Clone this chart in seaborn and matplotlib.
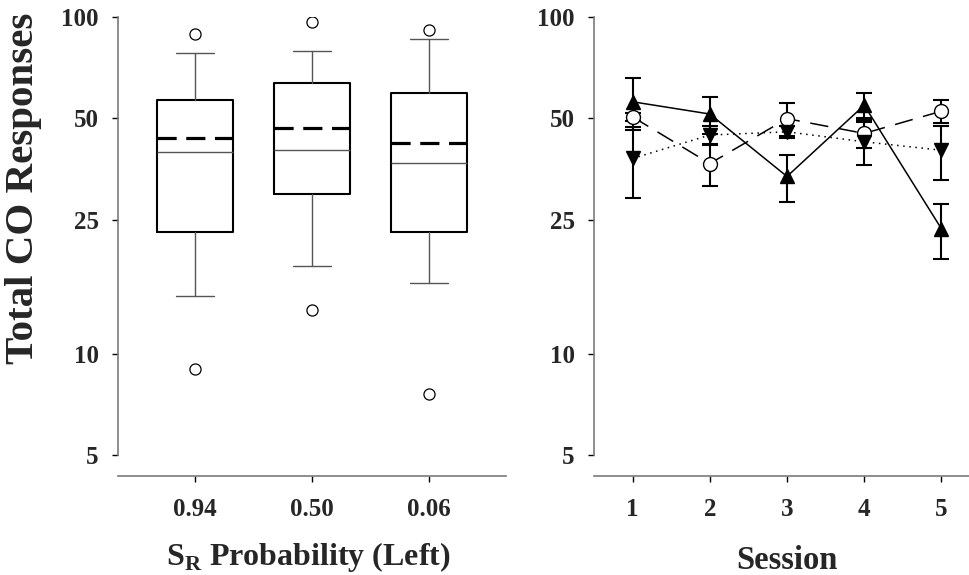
import matplotlib
matplotlib.use("Agg")
import matplotlib.pyplot as plt
from matplotlib.ticker import FixedLocator, FixedFormatter, NullLocator
import seaborn as sns

# left panel: box summaries per S_R probability
prob_labels = ["0.94", "0.50", "0.06"]
box_q1 = [23.0, 29.9, 23.0]
box_med = [39.7, 40.2, 36.8]
box_q3 = [56.6, 63.7, 59.5]
box_mean = [43.6, 46.7, 42.3]
whisk_lo = [14.8, 18.2, 16.2]
whisk_hi = [78.0, 79.2, 86.0]
fliers = [[89.0, 9.0], [96.4, 13.5], [91.7, 7.6]]

# right panel: session means and error bars
sessions = [1, 2, 3, 4, 5]
up_mean = [56.0, 51.5, 33.6, 54.7, 23.5]
up_err = [9.7, 6.5, 5.3, 4.6, 4.4]
circ_mean = [50.5, 36.7, 49.9, 45.1, 52.5]
circ_err = [1.5, 5.3, 5.7, 4.4, 4.0]
down_mean = [38.0, 44.6, 45.6, 42.6, 40.2]
down_err = [9.0, 3.0, 2.0, 6.2, 7.3]

yticks = [5, 10, 25, 50, 100]

sns.set_style("ticks")
plt.rcParams["font.family"] = ["Liberation Serif", "DejaVu Serif"]
plt.rcParams["font.weight"] = "bold"
plt.rcParams["mathtext.fontset"] = "custom"
plt.rcParams["mathtext.rm"] = "Liberation Serif:bold"
plt.rcParams["mathtext.bf"] = "Liberation Serif:bold"

fig = plt.figure(figsize=(9.69, 5.75), dpi=100)
ax1 = fig.add_axes([118 / 969, 1 - 455 / 575, 388 / 969, 438 / 575])
ax2 = fig.add_axes([594 / 969, 1 - 455 / 575, 386 / 969, 438 / 575])

stats = []
for i in range(3):
    stats.append(dict(q1=box_q1[i], med=box_med[i], q3=box_q3[i], mean=box_mean[i],
                      whislo=whisk_lo[i], whishi=whisk_hi[i], fliers=fliers[i]))
ax1.bxp(stats, positions=[0, 1, 2], widths=0.65, showmeans=True, meanline=True,
        boxprops=dict(color="black", linewidth=1.5),
        whiskerprops=dict(color="#555555", linewidth=1.0),
        capprops=dict(color="#555555", linewidth=1.0),
        medianprops=dict(color="#555555", linewidth=1.0),
        meanprops=dict(color="black", linewidth=2.3, linestyle=(0, (6.0, 3.0))),
        flierprops=dict(marker="o", markerfacecolor="white", markeredgecolor="black",
                        markersize=8, markeredgewidth=0.9))
ax1.set_xlim(-0.66, 2.66)
ax1.set_xticks([0, 1, 2])
ax1.set_xticklabels(prob_labels)

series = [
    (up_mean, up_err, "^", "black", "-"),
    (circ_mean, circ_err, "o", "white", (0, (12, 7))),
    (down_mean, down_err, "v", "black", (0, (1, 3))),
]
for mean, err, mk, face, ls in series:
    ax2.errorbar(sessions, mean, yerr=err, fmt="none", ecolor="black",
                 elinewidth=1.5, capsize=6, capthick=1.5, zorder=2)
    sns.lineplot(x=sessions, y=mean, ax=ax2, color="black", linewidth=1.1,
                 linestyle=ls, marker=mk, markersize=10, markerfacecolor=face,
                 markeredgecolor="black", markeredgewidth=1.0, zorder=3)
ax2.set_xlim(0.5, 5.5)
ax2.set_xticks(sessions)

for ax in (ax1, ax2):
    ax.set_yscale("log")
    ax.set_ylim(5, 100)
    ax.yaxis.set_major_locator(FixedLocator(yticks))
    ax.yaxis.set_major_formatter(FixedFormatter([str(t) for t in yticks]))
    ax.yaxis.set_minor_locator(NullLocator())
    for s in ("top", "right"):
        ax.spines[s].set_visible(False)
    for s in ("left", "bottom"):
        ax.spines[s].set_color("#7a7a7a")
        ax.spines[s].set_linewidth(1.2)
    ax.spines["bottom"].set_position(("outward", 15))
    ax.tick_params(axis="y", length=4, width=1, color="black", pad=10, labelsize=18)
    ax.tick_params(axis="x", length=4, width=1, color="black", pad=12, labelsize=18)
    for lab in ax.get_xticklabels() + ax.get_yticklabels():
        lab.set_fontweight("bold")

ax1.set_ylabel("Total CO Responses", fontsize=29.5, fontweight="bold")
ax1.yaxis.set_label_coords(-0.195, 0.61)
ax1.set_xlabel(r"S$_\mathrm{R}$ Probability (Left)", fontsize=23, fontweight="bold")
ax1.xaxis.set_label_coords(0.49, -0.195)
ax2.set_xlabel("Session", fontsize=23.5, fontweight="bold")
ax2.xaxis.set_label_coords(0.5, -0.205)
ax2.set_ylabel("")

fig.savefig("out.png", dpi=100)
